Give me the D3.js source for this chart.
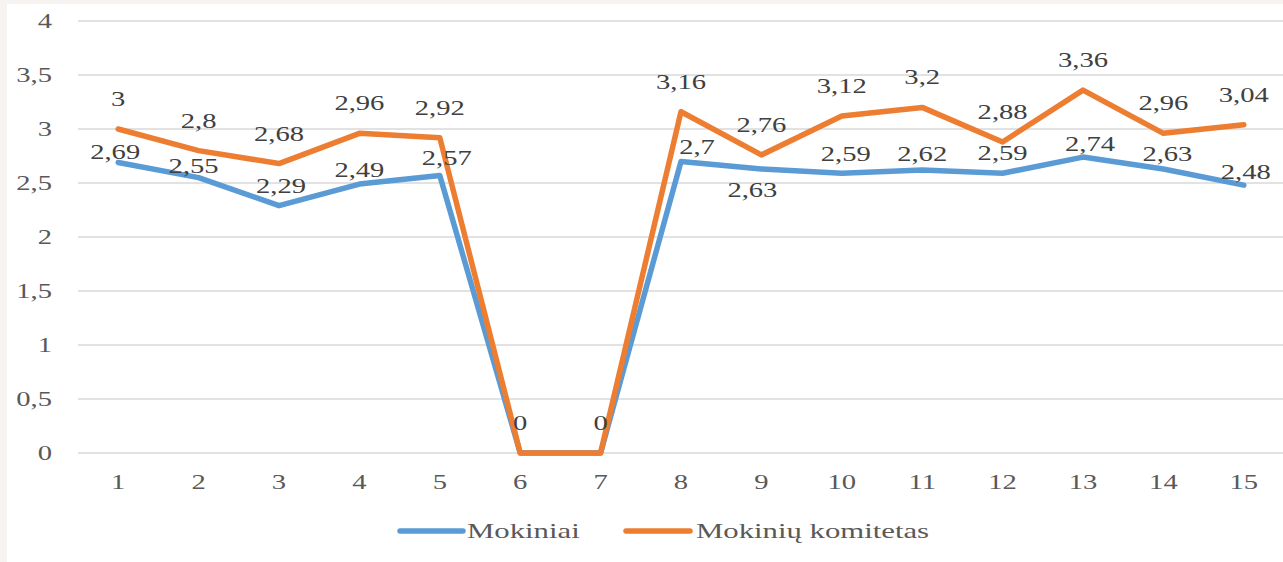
<!DOCTYPE html>
<html>
<head>
<meta charset="utf-8">
<script src="https://cdn.jsdelivr.net/npm/d3@7"></script>
<style>
html,body{margin:0;padding:0;background:#f6f3f0;}
svg{display:block;}
text{font-family:"Liberation Serif","Times New Roman",serif;}
</style>
</head>
<body>
<svg id="chart" width="1283" height="562"></svg>
<script>
// ---- data ----
const categories = ["1","2","3","4","5","6","7","8","9","10","11","12","13","14","15"];
const mokiniai = [2.69, 2.55, 2.29, 2.49, 2.57, 0, 0, 2.7, 2.63, 2.59, 2.62, 2.59, 2.74, 2.63, 2.48];
const komitetas = [3, 2.8, 2.68, 2.96, 2.92, 0, 0, 3.16, 2.76, 3.12, 3.2, 2.88, 3.36, 2.96, 3.04];
const yTicks = [0, 0.5, 1, 1.5, 2, 2.5, 3, 3.5, 4];
const seriesNames = ["Mokiniai", "Mokinių komitetas"];

// ---- layout (label nudges for the blue series, in px) ----
const blueLabelDx = [-3, -5, 2, 0, 7, 0, 0, 16, -9, 4, 0, 0, 7, 4, 2];
const blueLabelDy = [-10, -12, -20, -14, -17, 0, 0, -14, 21, -19, -16, -20, -13, -15, -13];
const SX = 1.43; // horizontal text stretch seen in the reference

const fmt = v => String(v).replace(".", ",");
const svg = d3.select("#chart");
svg.append("rect").attr("x", 7).attr("y", 4).attr("width", 1283).attr("height", 562).attr("fill", "#ffffff");

const x = d3.scaleBand().domain(categories).range([78, 1284]);
const cx = c => x(c) + x.bandwidth() / 2;
const y = d3.scaleLinear().domain([0, 4]).range([453, 21]);

// gridlines
svg.append("g").selectAll("line").data(yTicks).join("line")
  .attr("x1", 78).attr("x2", 1284)
  .attr("y1", d => y(d)).attr("y2", d => y(d))
  .attr("stroke", "#d9d9d9").attr("stroke-width", 1.5);

// y tick labels
svg.append("g").selectAll("text").data(yTicks).join("text")
  .attr("transform", d => `translate(52,${y(d) + 7}) scale(${SX},1)`)
  .attr("text-anchor", "end").attr("font-size", 20).attr("fill", "#595959")
  .text(d => fmt(d));

// x tick labels
svg.append("g").selectAll("text").data(categories).join("text")
  .attr("transform", d => `translate(${cx(d)},489) scale(${SX},1)`)
  .attr("text-anchor", "middle").attr("font-size", 20).attr("fill", "#595959")
  .text(d => d);

const line = d3.line().x((d, i) => cx(categories[i])).y(d => y(d));

svg.append("path").datum(mokiniai).attr("d", line)
  .attr("fill", "none").attr("stroke", "#5b9bd5").attr("stroke-width", 5.5)
  .attr("stroke-linejoin", "round").attr("stroke-linecap", "round");
svg.append("path").datum(komitetas).attr("d", line)
  .attr("fill", "none").attr("stroke", "#ed7d31").attr("stroke-width", 5.5)
  .attr("stroke-linejoin", "round").attr("stroke-linecap", "round");

// labels: blue series (zeros are hidden under the orange labels)
const blueG = svg.append("g");
mokiniai.forEach((v, i) => {
  if (v === 0) return;
  blueG.append("text")
    .attr("transform", `translate(${cx(categories[i]) + blueLabelDx[i]},${y(v) + blueLabelDy[i] + 7}) scale(${SX},1)`)
    .attr("text-anchor", "middle").attr("font-size", 20).attr("fill", "#404040")
    .text(fmt(v));
});

// labels: orange series
svg.append("g").selectAll("text").data(komitetas).join("text")
  .attr("transform", (d, i) => `translate(${cx(categories[i])},${y(d) - 30 + 7}) scale(${SX},1)`)
  .attr("text-anchor", "middle").attr("font-size", 20).attr("fill", "#404040")
  .text(d => fmt(d));

// legend
const legend = [
  {name: seriesNames[0], color: "#5b9bd5", x1: 400, x2: 463, tx: 467},
  {name: seriesNames[1], color: "#ed7d31", x1: 626, x2: 690, tx: 696}
];
const lg = svg.append("g");
legend.forEach(l => {
  lg.append("line").attr("x1", l.x1).attr("x2", l.x2).attr("y1", 531).attr("y2", 531)
    .attr("stroke", l.color).attr("stroke-width", 5.5).attr("stroke-linecap", "round");
  lg.append("text").attr("transform", `translate(${l.tx},538) scale(${SX},1)`)
    .attr("font-size", 21.5).attr("fill", "#595959").text(l.name);
});
</script>
</body>
</html>
